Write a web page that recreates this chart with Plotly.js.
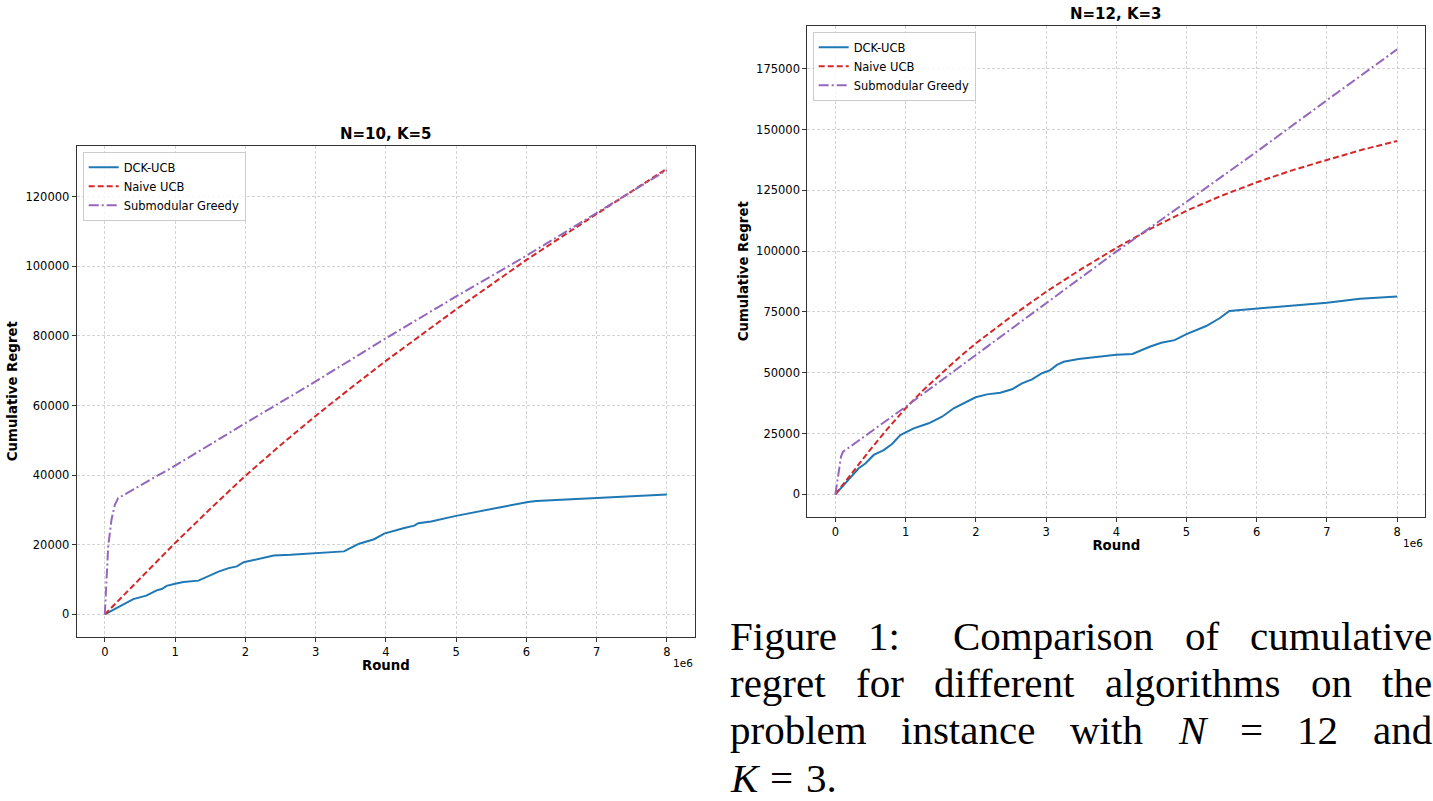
<!DOCTYPE html>
<html><head><meta charset="utf-8">
<script src="https://cdn.plot.ly/plotly-3.0.1.min.js"></script>
<style>html,body{margin:0;padding:0;background:#fff}#chart{width:1433px;height:801px}</style>
</head><body><div id="chart"></div>
<script>
// ---------- DATA ----------
const seriesNames = ['DCK-UCB', 'Naive UCB', 'Submodular Greedy'];
const panelTitles = ['N=10, K=5', 'N=12, K=3'];
const xTickVals = [0, 1e6, 2e6, 3e6, 4e6, 5e6, 6e6, 7e6, 8e6];
const xTickText = ['0', '1', '2', '3', '4', '5', '6', '7', '8'];

// Left panel: N=10, K=5
const leftDckX = [0, 0.119e6, 0.24e6, 0.405e6, 0.59e6, 0.738e6, 0.81e6, 0.88e6, 1.0e6, 1.119e6, 1.333e6, 1.476e6, 1.619e6, 1.762e6, 1.88e6, 1.976e6, 2.167e6, 2.31e6, 2.405e6, 2.643e6, 3.0e6, 3.19e6, 3.405e6, 3.5e6, 3.62e6, 3.833e6, 3.976e6, 4.262e6, 4.405e6, 4.462e6, 4.643e6, 5.0e6, 5.357e6, 5.69e6, 6.024e6, 6.14e6, 7.0e6, 8.0e6];
const leftDckY = [0, 1350, 2500, 4400, 5400, 6900, 7300, 8200, 8800, 9300, 9700, 11100, 12300, 13300, 13800, 15000, 15900, 16500, 16900, 17100, 17600, 18000, 18100, 19100, 20300, 21600, 23200, 24800, 25500, 26200, 26700, 28300, 29800, 31000, 32300, 32600, 33400, 34400];
const leftNaiveX = [0, 0.5e6, 1e6, 1.5e6, 2e6, 2.5e6, 3e6, 3.5e6, 4e6, 5e6, 6e6, 7e6, 8e6];
const leftNaiveY = [0, 10400, 20500, 30300, 39800, 48600, 57000, 65000, 72800, 87600, 101800, 115000, 128000];
const leftGreedyX = [0, 0.024e6, 0.048e6, 0.095e6, 0.143e6, 0.19e6, 1e6, 2e6, 3e6, 4e6, 5e6, 6e6, 7e6, 8e6];
const leftGreedyY = [0, 10900, 19500, 27200, 31500, 33400, 42700, 54900, 66900, 79300, 91300, 103000, 115200, 127600];

// Right panel: N=12, K=3
const rightDckX = [0, 0.095e6, 0.214e6, 0.332e6, 0.427e6, 0.546e6, 0.688e6, 0.807e6, 0.925e6, 1.115e6, 1.329e6, 1.519e6, 1.685e6, 1.827e6, 1.997e6, 2.159e6, 2.349e6, 2.515e6, 2.657e6, 2.8e6, 2.942e6, 3.06e6, 3.155e6, 3.25e6, 3.463e6, 4.0e6, 4.23e6, 4.475e6, 4.64e6, 4.83e6, 5.0e6, 5.28e6, 5.47e6, 5.61e6, 6.0e6, 7.0e6, 7.47e6, 8.0e6];
const rightDckY = [0, 3100, 6600, 10700, 12700, 16200, 18200, 20700, 24400, 27100, 29200, 31900, 35400, 37400, 39900, 41100, 41800, 43200, 45600, 47300, 49800, 51100, 53200, 54500, 55600, 57400, 57700, 60700, 62300, 63400, 65900, 69200, 72400, 75400, 76300, 78800, 80400, 81300];
const rightNaiveX = [0, 0.25e6, 0.5e6, 0.75e6, 1.0e6, 1.25e6, 1.5e6, 1.75e6, 2.0e6, 2.5e6, 3.0e6, 3.5e6, 4.0e6, 4.5e6, 5.0e6, 5.5e6, 6.0e6, 6.5e6, 7.0e6, 7.5e6, 8.0e6];
const rightNaiveY = [0, 9500, 18500, 27200, 35400, 42800, 49600, 56000, 62100, 73000, 83300, 92600, 101300, 109400, 116600, 122800, 128300, 133200, 137500, 141700, 145300];
const rightGreedyX = [0, 0.047e6, 0.08e6, 0.109e6, 1e6, 2e6, 3e6, 4e6, 5e6, 6e6, 7e6, 8e6];
const rightGreedyY = [0, 8600, 15500, 17500, 36000, 57300, 78500, 99800, 120300, 140900, 162100, 183000];

const captionLines = [
  ['Figure', '1:', 'Comparison', 'of', 'cumulative'],
  ['regret', 'for', 'different', 'algorithms', 'on', 'the'],
  ['problem', 'instance', 'with', '<i>N</i>', '=', '12', 'and'],
  ['<i>K</i>', '=', '3.']
];

// ---------- STYLE ----------
const W = 1433, H = 801;
const colors = ['#1f77b4', '#d62728', '#9467bd'];
const dashes = ['solid', '6px,3px', '10px,3px,2px,3px'];
const FONT = 'DejaVu Sans';
const px = v => v / W, py = v => 1 - v / H;

function mk(x, y, i, xa, ya, leg) {
  return {x, y, type: 'scatter', mode: 'lines', name: seriesNames[i],
    xaxis: xa, yaxis: ya, legend: leg, showlegend: true,
    line: {color: colors[i], width: 2, dash: dashes[i]}, hoverinfo: 'skip'};
}
const data = [
  mk(leftDckX, leftDckY, 0, 'x', 'y', 'legend'),
  mk(leftNaiveX, leftNaiveY, 1, 'x', 'y', 'legend'),
  mk(leftGreedyX, leftGreedyY, 2, 'x', 'y', 'legend'),
  mk(rightDckX, rightDckY, 0, 'x2', 'y2', 'legend2'),
  mk(rightNaiveX, rightNaiveY, 1, 'x2', 'y2', 'legend2'),
  mk(rightGreedyX, rightGreedyY, 2, 'x2', 'y2', 'legend2')
];

const axisCommon = {
  showline: true, mirror: true, linecolor: '#333', linewidth: 1,
  ticks: 'outside', ticklen: 4, tickwidth: 1, tickcolor: '#333',
  showgrid: true, gridcolor: '#c8c8c8', griddash: '3px,2px', gridwidth: 0.8,
  zeroline: false, automargin: false,
  tickfont: {family: FONT, size: 11.5, color: '#000'}
};
function xax(domain, anchor) {
  return Object.assign({}, axisCommon, {domain, anchor, range: [-0.4e6, 8.4e6],
    tickvals: xTickVals, ticktext: xTickText,
    title: {text: '<b>Round</b>', font: {family: FONT, size: 13.3, color: '#000'}, standoff: 3}});
}
function yax(domain, anchor, range, dtick) {
  return Object.assign({}, axisCommon, {domain, anchor, range, dtick, tick0: 0, tickformat: 'd',
    title: {text: '<b>Cumulative Regret</b>', font: {family: FONT, size: 13.3, color: '#000'}, standoff: 4}});
}

const legendCommon = {bgcolor: 'rgba(255,255,255,0.8)', bordercolor: '#cccccc', borderwidth: 1,
  font: {family: FONT, size: 11.5, color: '#000'}, xanchor: 'left', yanchor: 'top',
  itemwidth: 30, tracegroupgap: 0};

const annotations = [
  {text: '<b>' + panelTitles[0] + '</b>', x: px(386), y: py(134), xref: 'paper', yref: 'paper',
   xanchor: 'center', yanchor: 'middle', showarrow: false, font: {family: FONT, size: 15, color: '#000'}},
  {text: '<b>' + panelTitles[1] + '</b>', x: px(1116), y: py(14), xref: 'paper', yref: 'paper',
   xanchor: 'center', yanchor: 'middle', showarrow: false, font: {family: FONT, size: 15, color: '#000'}},
  {text: '1e6', x: px(695), y: py(663), xref: 'paper', yref: 'paper', xanchor: 'right', yanchor: 'middle',
   showarrow: false, font: {family: FONT, size: 10.5, color: '#000'}},
  {text: '1e6', x: px(1425), y: py(543), xref: 'paper', yref: 'paper', xanchor: 'right', yanchor: 'middle',
   showarrow: false, font: {family: FONT, size: 10.5, color: '#000'}}
];

// ---------- CAPTION (justified with measured word widths) ----------
const CAP = 41, CAPFONT = 'Liberation Serif';
const cx = document.createElement('canvas').getContext('2d');
function wordWidth(t) {
  const it = t.indexOf('<i>') >= 0;
  cx.font = (it ? 'italic ' : '') + CAP + 'px "' + CAPFONT + '"';
  return cx.measureText(t.replace(/<\/?i>/g, '')).width;
}
const capLeft = 730, capRight = 1432;
const capMid = [636, 683, 730, 777.5];
captionLines.forEach((words, li) => {
  const widths = words.map(wordWidth);
  let xs = [];
  if (li < 3) {
    const total = widths.reduce((a, b) => a + b, 0);
    const weights = words.slice(1).map((_, k) => (li === 0 && k === 1) ? 1.7 : 1);
    const wsum = weights.reduce((a, b) => a + b, 0);
    const unit = (capRight - capLeft - total) / wsum;
    let x = capLeft;
    words.forEach((w, k) => { xs.push(x); x += widths[k] + (k < weights.length ? weights[k] * unit : 0); });
  } else {
    let x = capLeft;
    words.forEach((w, k) => { xs.push(x); x += widths[k] + 13; });
  }
  words.forEach((w, k) => annotations.push({text: w, x: px(xs[k] - 1), y: py(capMid[li]),
    xref: 'paper', yref: 'paper', xanchor: 'left', yanchor: 'middle', showarrow: false,
    borderpad: 0, font: {family: CAPFONT, size: CAP, color: '#000'}}));
});

const layout = {
  width: W, height: H, margin: {l: 0, r: 0, t: 0, b: 0},
  paper_bgcolor: '#fff', plot_bgcolor: '#fff', font: {family: FONT, color: '#000'},
  xaxis: xax([px(76.7), px(695)], 'y'),
  yaxis: yax([py(636.7), py(145.7)], 'x', [-6400, 134600], 20000),
  xaxis2: xax([px(807.3), px(1425.3)], 'y2'),
  yaxis2: yax([py(516.7), py(25.7)], 'x2', [-9200, 192700], 25000),
  legend: Object.assign({}, legendCommon, {x: px(82.7), y: py(151.7)}),
  legend2: Object.assign({}, legendCommon, {x: px(812.7), y: py(31.7)}),
  annotations, showlegend: true
};
Plotly.newPlot('chart', data, layout, {staticPlot: true, displayModeBar: false});
</script></body></html>
